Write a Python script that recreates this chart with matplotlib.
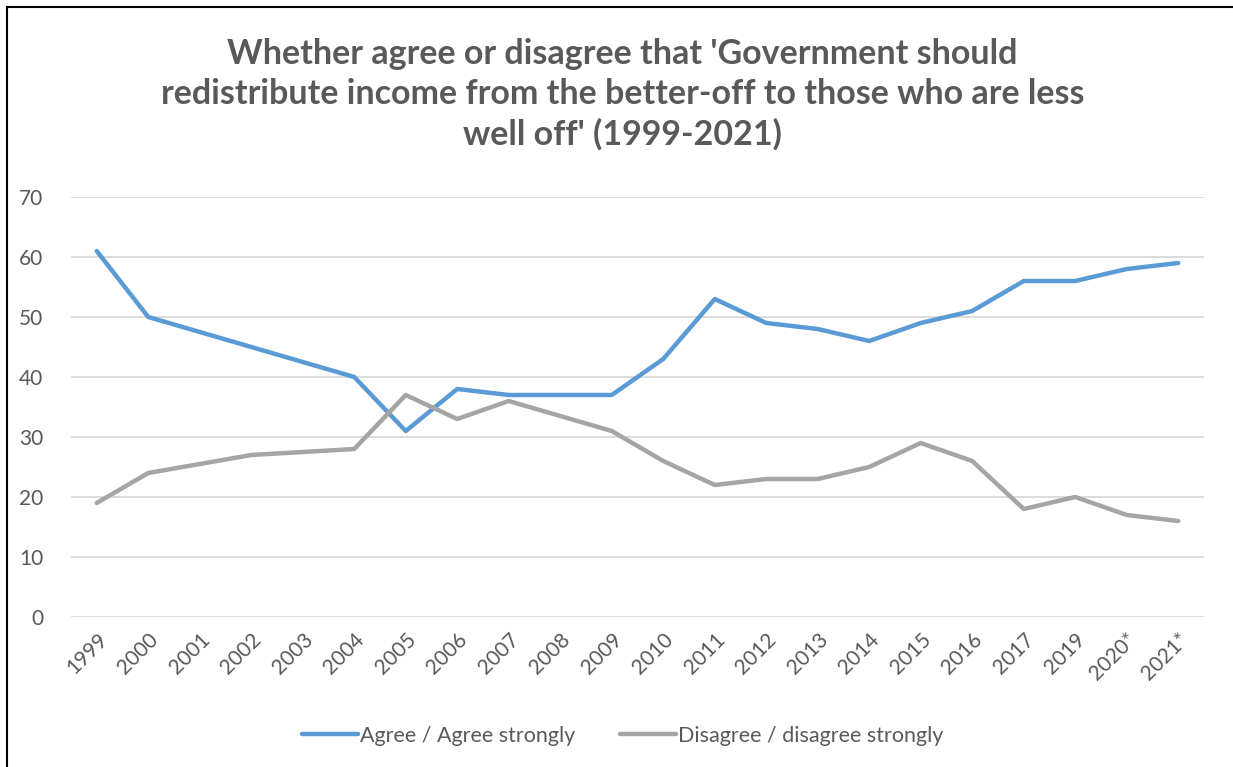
import matplotlib.pyplot as plt
from matplotlib.lines import Line2D
import numpy as np

# Survey years (2018 not in the series; 2001, 2003, 2008 have no reading)
years = ['1999', '2000', '2001', '2002', '2003', '2004', '2005', '2006', '2007', '2008',
         '2009', '2010', '2011', '2012', '2013', '2014', '2015', '2016', '2017', '2019',
         '2020*', '2021*']
agree = [61, 50, None, 45, None, 40, 31, 38, 37, None,
         37, 43, 53, 49, 48, 46, 49, 51, 56, 56, 58, 59]
disagree = [19, 24, None, 27, None, 28, 37, 33, 36, None,
            31, 26, 22, 23, 23, 25, 29, 26, 18, 20, 17, 16]

plt.rcParams['font.family'] = ['Lato', 'DejaVu Sans']

W, H = 1233, 767
fig = plt.figure(figsize=(W / 100, H / 100), dpi=100)
ax = fig.add_axes([71 / W, 1 - 617 / H, (1204 - 71) / W, (617 - 197) / H])

x = np.arange(len(years))


def draw(values, color, label):
    # join the available years, like Excel does across empty cells
    pts = [(i, v) for i, v in zip(x, values) if v is not None]
    xs, ys = zip(*pts)
    ax.plot(xs, ys, color=color, lw=3.2, solid_capstyle='round',
            solid_joinstyle='round', label=label, zorder=3)


draw(agree, '#5B9BD5', 'Agree / Agree strongly')
draw(disagree, '#A5A5A5', 'Disagree / disagree strongly')

ax.set_xlim(-0.5, len(years) - 0.5)
ax.set_ylim(0, 70)
ax.set_yticks(range(0, 71, 10))
ax.grid(axis='y', color='#D9D9D9', lw=1.3)
ax.set_axisbelow(True)
for s in ax.spines.values():
    s.set_visible(False)
ax.tick_params(length=0, colors='#595959', labelsize=15)
ax.tick_params(axis='y', pad=20)
ax.set_xticks(x)
ax.set_xticklabels(years, rotation=45, ha='right', rotation_mode='anchor')
ax.tick_params(axis='x', pad=9)

fig.text(0.505, 1 - 94 / H,
         "Whether agree or disagree that 'Government should\n"
         "redistribute income from the better-off to those who are less\n"
         "well off' (1999-2021)",
         ha='center', va='center', fontsize=24.5, fontweight='bold',
         color='#595959', linespacing=1.3)

handles = [Line2D([], [], color='#5B9BD5', lw=3.2, solid_capstyle='round'),
           Line2D([], [], color='#A5A5A5', lw=3.2, solid_capstyle='round')]
fig.legend(handles, ['Agree / Agree strongly', 'Disagree / disagree strongly'],
           loc='center', bbox_to_anchor=(0.505, 1 - 736 / H), ncol=2, frameon=False,
           fontsize=15.5, labelcolor='#595959', handlelength=2.6, handletextpad=0.1,
           columnspacing=2.1)

# outer chart border (top and left edges visible)
fig.add_artist(Line2D([7 / W, 1], [1 - 7 / H, 1 - 7 / H], color='black', lw=1.5))
fig.add_artist(Line2D([7 / W, 7 / W], [0, 1 - 7 / H], color='black', lw=1.5))

fig.savefig('out.png', dpi=100)
